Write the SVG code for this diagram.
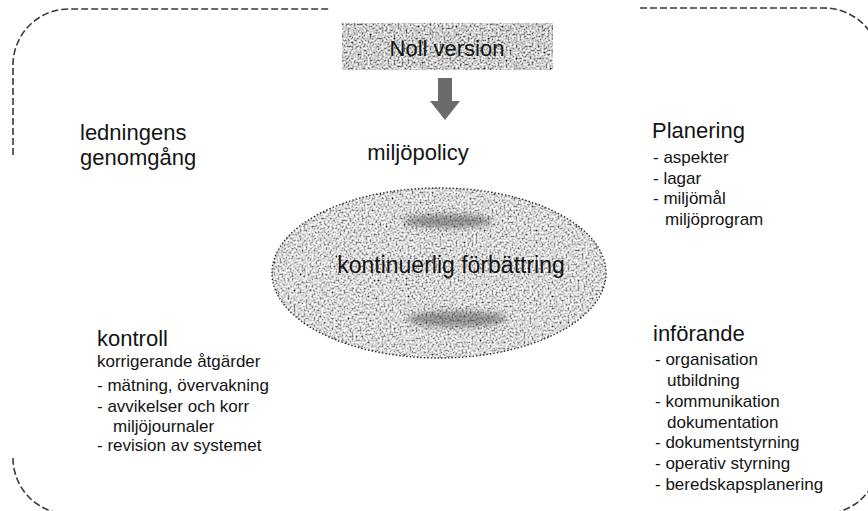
<svg xmlns="http://www.w3.org/2000/svg" width="868" height="511" viewBox="0 0 868 511">
  <style>
    text { font-family: "Liberation Sans", Arial, sans-serif; fill: #141414; }
    .title { font-size: 22px; }
    .item { font-size: 17px; }
    .frame { fill: none; stroke: #3a3a3a; stroke-width: 1.6; stroke-dasharray: 7 3; }
  </style>
  <defs>
    <filter id="grain" x="0" y="0" width="100%" height="100%">
      <feTurbulence type="fractalNoise" baseFrequency="0.5" numOctaves="2" seed="4" result="n"/>
      <feColorMatrix in="n" type="matrix" values="2 0 0 0 -0.4  2 0 0 0 -0.4  2 0 0 0 -0.4  0 0 0 0 1" result="g"/>
      <feComposite in="g" in2="SourceGraphic" operator="in"/>
    </filter>
    <filter id="grainLight" x="0" y="0" width="100%" height="100%">
      <feTurbulence type="fractalNoise" baseFrequency="0.5" numOctaves="2" seed="9" result="n"/>
      <feColorMatrix in="n" type="matrix" values="2 0 0 0 -0.32  2 0 0 0 -0.32  2 0 0 0 -0.32  0 0 0 0 1" result="g"/>
      <feComposite in="g" in2="SourceGraphic" operator="in"/>
    </filter>
    <filter id="blur" x="-30%" y="-100%" width="160%" height="300%">
      <feGaussianBlur stdDeviation="3"/>
    </filter>
  </defs>

  <!-- outer frame (visible fragments) -->
  <g id="frame">
    <path class="frame" d="M13 155 L13 65 A56 56 0 0 1 69 9 L330 9"/>
    <path class="frame" d="M640 8 L824 8 A56 56 0 0 1 880 64"/>
    <path class="frame" d="M13 458 A56 56 0 0 0 69 514"/>
    <path class="frame" d="M824 514 A56 56 0 0 0 878 470"/>
  </g>

  <g id="noll-version">
    <rect x="342" y="23" width="211" height="47" fill="#999" filter="url(#grain)"/>
    <text class="title" x="447" y="56" text-anchor="middle">Noll version</text>
  </g>

  <g id="connectors">
    <path d="M438 78 L452 78 L452 101 L460 101 L445 120 L430 101 L438 101 Z" fill="#6b6b6b"/>
  </g>

  <g id="miljopolicy">
    <text class="title" x="418" y="160" text-anchor="middle">miljöpolicy</text>
  </g>

  <g id="ledningens-genomgang">
    <text class="title" x="80" y="140">ledningens</text>
    <text class="title" x="80" y="165">genomgång</text>
  </g>

  <g id="planering">
    <text class="title" x="652" y="138">Planering</text>
    <text class="item" x="653" y="163">- aspekter</text>
    <text class="item" x="653" y="184">- lagar</text>
    <text class="item" x="653" y="204">- miljömål</text>
    <text class="item" x="665" y="225">miljöprogram</text>
  </g>

  <g id="kontinuerlig-forbattring">
    <ellipse cx="439" cy="273" rx="167" ry="85" fill="#aaa" filter="url(#grainLight)"/>
    <ellipse cx="439" cy="273" rx="167" ry="85" fill="none" stroke="#2e2e2e" stroke-width="1.4" stroke-dasharray="1.5 2"/>
    <ellipse cx="448" cy="221" rx="45" ry="7" fill="#444" opacity="0.5" filter="url(#blur)"/>
    <ellipse cx="457" cy="319" rx="50" ry="8" fill="#444" opacity="0.5" filter="url(#blur)"/>
    <text x="451" y="273" text-anchor="middle" style="font-size:23px">kontinuerlig förbättring</text>
  </g>

  <g id="kontroll">
    <text class="title" x="97" y="346">kontroll</text>
    <text class="item" x="97" y="367">korrigerande åtgärder</text>
    <text class="item" x="97" y="391">- mätning, övervakning</text>
    <text class="item" x="97" y="412">- avvikelser och korr</text>
    <text class="item" x="113" y="432">miljöjournaler</text>
    <text class="item" x="97" y="451">- revision av systemet</text>
  </g>

  <g id="inforande">
    <text class="title" x="653" y="341">införande</text>
    <text class="item" x="655" y="365">- organisation</text>
    <text class="item" x="667" y="386">utbildning</text>
    <text class="item" x="655" y="407">- kommunikation</text>
    <text class="item" x="667" y="428">dokumentation</text>
    <text class="item" x="655" y="448">- dokumentstyrning</text>
    <text class="item" x="655" y="469">- operativ styrning</text>
    <text class="item" x="655" y="490">- beredskapsplanering</text>
  </g>
</svg>
